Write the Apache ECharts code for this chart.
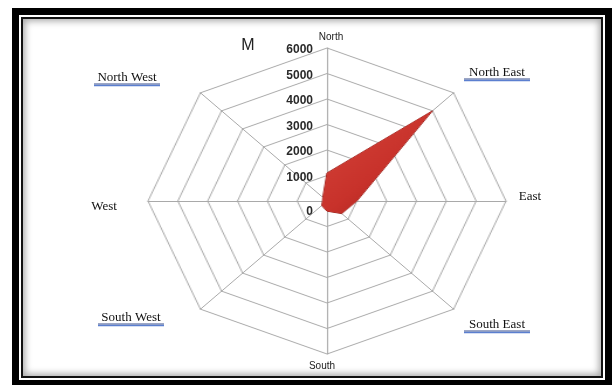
<!DOCTYPE html>
<html>
<head>
<meta charset="utf-8">
<script src="https://cdn.jsdelivr.net/npm/echarts@6/dist/echarts.min.js"></script>
<style>
  html, body { margin: 0; padding: 0; background: #fff; }
  #stage { position: relative; width: 616px; height: 385px; overflow: hidden; background: #fff; }
  .layer { position: absolute; left: 0; top: 0; width: 616px; height: 385px; }
  #frame {
    position: absolute; left: 12px; top: 8px; width: 600px; height: 379px;
    box-sizing: border-box; border: 7px solid #000;
  }
  #frame .inner {
    position: absolute; left: 2px; top: 2px; right: 2px; bottom: 2px;
    border: 2px solid #111;
    box-shadow: inset 0 0 7px 2px rgba(0,0,0,0.35);
  }
  /* the web is drawn on a circle and widened into the octagon's horizontal spread */
  #web { transform: scaleX(1.17); transform-origin: 327px 201px; }
</style>
</head>
<body>
<div id="stage">
  <div id="frame"><div class="inner"></div></div>
  <div id="web" class="layer"></div>
  <div id="text" class="layer"></div>
</div>
<script>
// Compass directions, clockwise from North
var directions = ['North', 'North East', 'East', 'South East', 'South', 'South West', 'West', 'North West'];
// Values per direction
var values = [1100, 5000, 1000, 700, 400, 250, 150, 200];
// Radial scale
var scaleMax = 6000;
var scaleStep = 1000;
var unitLabel = 'M';

// ECharts lays radar axes out counter-clockwise, so walk the compass backwards after North
var order = [0].concat(directions.slice(1).map(function (_, i) { return directions.length - 1 - i; }));

var web = echarts.init(document.getElementById('web'), null, { renderer: 'canvas' });
web.setOption({
  animation: false,
  backgroundColor: 'transparent',
  radar: {
    center: [327, 201],
    radius: 153,
    startAngle: 90,
    shape: 'polygon',
    splitNumber: scaleMax / scaleStep,
    indicator: order.map(function (k) { return { name: directions[k], min: 0, max: scaleMax }; }),
    axisName: { show: false },
    axisLine: { lineStyle: { color: '#a9a9a9', width: 1 } },
    splitLine: { lineStyle: { color: '#a9a9a9', width: 1 } },
    splitArea: { show: false },
    axisTick: { show: false },
    axisLabel: { show: false }
  },
  series: [{
    type: 'radar',
    symbol: 'none',
    data: [{
      value: order.map(function (k) { return values[k]; }),
      lineStyle: { color: '#8f1c17', width: 1 },
      areaStyle: {
        opacity: 1,
        color: new echarts.graphic.LinearGradient(0, 0, 1, 1, [
          { offset: 0, color: '#d6463c' },
          { offset: 0.55, color: '#c8322b' },
          { offset: 1, color: '#a01e19' }
        ])
      }
    }]
  }]
});

// Labels: the radial value axis along North and the direction names
var serifLabels = {
  'North West': { x: 127, y: 78, underline: true },
  'North East': { x: 497, y: 73, underline: true },
  'West': { x: 104, y: 207, underline: false },
  'East': { x: 530, y: 197, underline: false },
  'South West': { x: 131, y: 318, underline: true },
  'South East': { x: 497, y: 325, underline: true }
};
var sansLabels = {
  'North': { x: 331, y: 37 },
  'South': { x: 322, y: 366 }
};

var graphics = [];
directions.forEach(function (d) {
  if (serifLabels[d]) {
    var p = serifLabels[d];
    graphics.push({
      type: 'text', x: p.x, y: p.y,
      style: { text: d, fill: '#111', font: '13px "Liberation Serif", serif', align: 'center', verticalAlign: 'middle' }
    });
    if (p.underline) {
      var w = d.length * 6.6;
      graphics.push({
        type: 'line', shape: { x1: p.x - w / 2, y1: p.y + 6, x2: p.x + w / 2, y2: p.y + 6 },
        style: { stroke: '#3a4f8a', lineWidth: 1 }
      });
      graphics.push({
        type: 'line', shape: { x1: p.x - w / 2, y1: p.y + 7.5, x2: p.x + w / 2, y2: p.y + 7.5 },
        style: { stroke: '#5b7fd0', lineWidth: 1.5 }
      });
    }
  } else if (sansLabels[d]) {
    var q = sansLabels[d];
    graphics.push({
      type: 'text', x: q.x, y: q.y,
      style: { text: d, fill: '#222', font: '10px "Liberation Sans", Arial, sans-serif', align: 'center', verticalAlign: 'middle' }
    });
  }
});
graphics.push({
  type: 'text', x: 248, y: 46,
  style: { text: unitLabel, fill: '#222', font: '16px "Liberation Sans", Arial, sans-serif', align: 'center', verticalAlign: 'middle' }
});

var text = echarts.init(document.getElementById('text'), null, { renderer: 'canvas' });
text.setOption({
  animation: false,
  backgroundColor: 'transparent',
  grid: { left: 327, top: 48, width: 100, height: 153 },
  xAxis: { type: 'value', show: false, min: 0, max: 1 },
  yAxis: {
    type: 'value', min: 0, max: scaleMax, interval: scaleStep,
    axisLine: { show: false }, axisTick: { show: false }, splitLine: { show: false },
    axisLabel: {
      margin: 14, color: '#2a2a2a', fontWeight: 'bold', fontSize: 12,
      fontFamily: '"Liberation Sans", Arial, sans-serif',
      padding: [4, 0, 0, 0],
      formatter: function (v) { return v === 0 ? '{origin|0}' : String(v); },
      rich: {
        origin: {
          color: '#2a2a2a', fontWeight: 'bold', fontSize: 12,
          fontFamily: '"Liberation Sans", Arial, sans-serif',
          padding: [18, 0, 0, 0]
        }
      }
    }
  },
  series: [],
  graphic: graphics
});
</script>
</body>
</html>
